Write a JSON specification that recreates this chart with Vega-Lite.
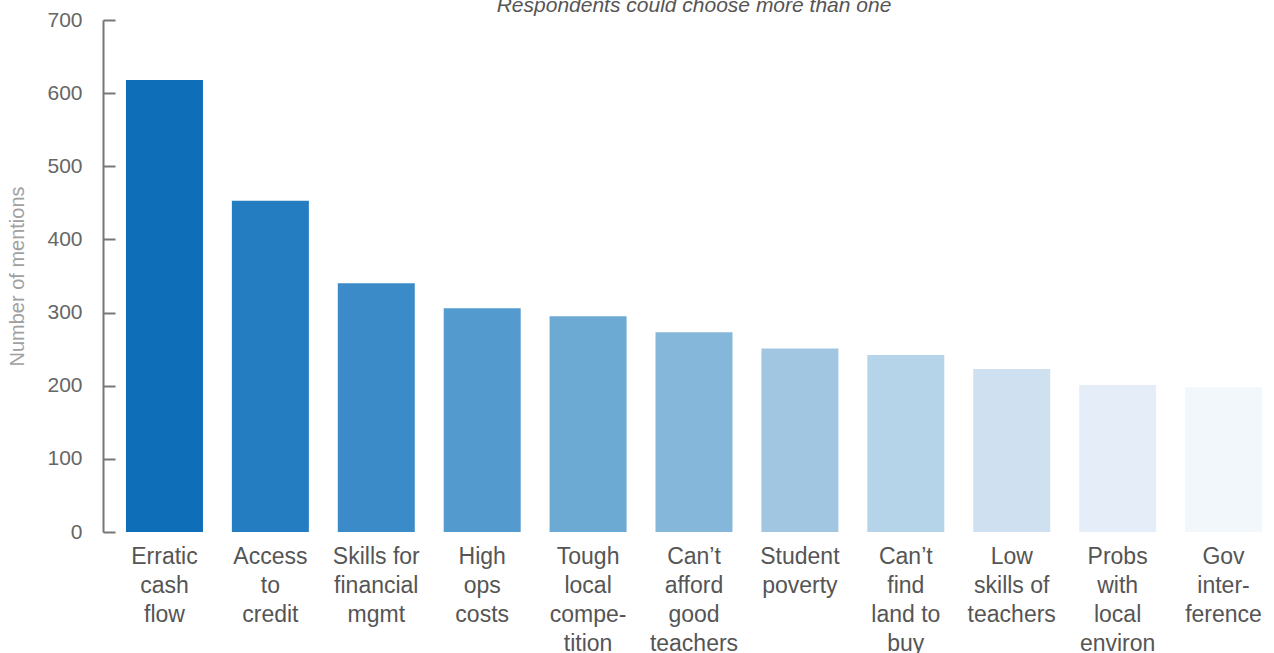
{
  "$schema": "https://vega.github.io/schema/vega-lite/v6.json",
  "width": 1160,
  "height": 512,
  "autosize": {"type": "none"},
  "padding": {"left": 114, "top": 20, "right": 0, "bottom": 121},
  "background": "white",
  "title": {
    "text": "Respondents could choose more than one",
    "fontStyle": "italic",
    "fontWeight": "normal",
    "fontSize": 21,
    "font": "Liberation Sans",
    "color": "#555555",
    "anchor": "middle",
    "offset": -7
  },
  "data": {
    "values": [
      {"label": "Erratic|cash|flow", "mentions": 618},
      {"label": "Access|to|credit", "mentions": 453},
      {"label": "Skills for|financial|mgmt", "mentions": 340},
      {"label": "High|ops|costs", "mentions": 306},
      {"label": "Tough|local|compe-|tition", "mentions": 295},
      {"label": "Can’t|afford|good|teachers", "mentions": 273},
      {"label": "Student|poverty", "mentions": 251},
      {"label": "Can’t|find|land to|buy", "mentions": 242},
      {"label": "Low|skills of|teachers", "mentions": 223},
      {"label": "Probs|with|local|environ", "mentions": 201},
      {"label": "Gov|inter-|ference", "mentions": 198}
    ]
  },
  "mark": {"type": "bar"},
  "encoding": {
    "x": {
      "field": "label",
      "type": "nominal",
      "sort": null,
      "scale": {"paddingInner": 0.273, "paddingOuter": 0.113},
      "axis": {
        "title": null,
        "labelAngle": 0,
        "labelExpr": "split(datum.label, '|')",
        "labelFont": "Liberation Sans",
        "labelFontSize": 23,
        "labelLineHeight": 29,
        "labelColor": "#555555",
        "labelPadding": 13,
        "labelLimit": 300,
        "domain": false,
        "ticks": false
      }
    },
    "y": {
      "field": "mentions",
      "type": "quantitative",
      "scale": {"domain": [0, 700], "nice": false},
      "axis": {
        "title": "Number of mentions",
        "titleFont": "Liberation Sans",
        "titleFontSize": 20,
        "titleFontWeight": "normal",
        "titleColor": "#a0a0a0",
        "titlePadding": 19,
        "values": [0, 100, 200, 300, 400, 500, 600, 700],
        "offset": 11,
        "grid": false,
        "domainColor": "#777777",
        "domainWidth": 2,
        "tickColor": "#777777",
        "tickWidth": 2,
        "tickSize": -12,
        "labelFont": "Liberation Sans",
        "labelFontSize": 21,
        "labelColor": "#666666",
        "labelPadding": 33
      }
    },
    "color": {
      "field": "label",
      "type": "nominal",
      "sort": null,
      "legend": null,
      "scale": {
        "range": ["#0e6eb8", "#237dc0", "#3a8bc8", "#539bce", "#6caad4", "#85b7da", "#a0c6e2", "#b5d4e9", "#cfe1f0", "#e5eef8", "#f1f7fb"]
      }
    }
  },
  "config": {"view": {"stroke": null}}
}
